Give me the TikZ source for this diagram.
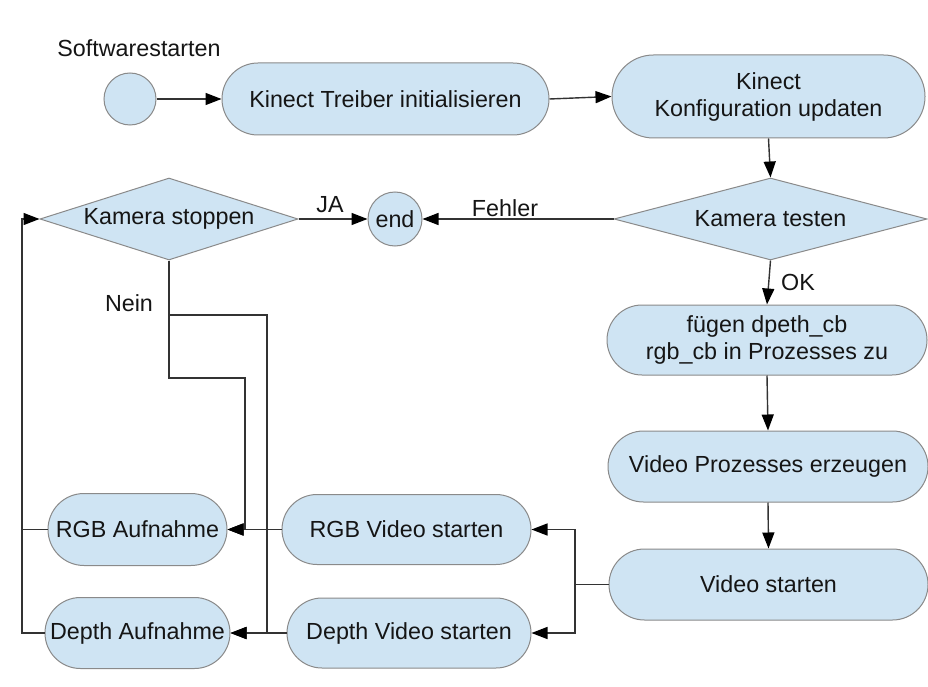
\documentclass[tikz,border=0pt]{standalone}
\usepackage{fontspec}
\setmainfont{Liberation Sans}
\usetikzlibrary{shapes.geometric,arrows.meta}
\definecolor{nodeblue}{HTML}{CFE4F3}
\definecolor{bordergray}{HTML}{8A8A8A}
\definecolor{linegray}{HTML}{333333}
\definecolor{txt}{HTML}{151515}
\tikzset{
  proc/.style={draw=bordergray, fill=nodeblue, line width=1pt, inner sep=0pt, align=center, text=txt},
  stadium/.style={proc, rectangle},
  decision/.style={proc, diamond},
  roundnode/.style={proc, circle},
  conn/.style={draw=linegray, line width=1.4pt, -{Triangle[length=16pt,width=12pt,color=black]}},
  plainline/.style={draw=linegray, line width=1.4pt},
  lbl/.style={text=txt, inner sep=0pt}
}
\begin{document}
\begin{tikzpicture}[x=1pt, y=-1pt, font=\fontsize{23.3}{27}\selectfont]
\useasboundingbox (0,0) rectangle (928,687);
\fill[white] (0,0) rectangle (928,687);

% nodes
\node[roundnode, minimum size=52pt] (start) at (130,99) {};
\node[lbl] (lblstart) at (139,48) {Softwarestarten};
\node[stadium, minimum width=327pt, minimum height=72pt, rounded corners=36pt] (treiber) at (385.5,99) {Kinect Treiber initialisieren};
\node[stadium, minimum width=313pt, minimum height=83pt, rounded corners=41.5pt] (konfig) at (768.5,96.5) {Kinect\\Konfiguration updaten};
\node[decision, aspect=3.82, minimum width=313pt, minimum height=82pt] (testen) at (770.5,219) {Kamera testen};
\node[roundnode, minimum size=54pt] (endc) at (395,219) {end};
\node[decision, aspect=3.15, minimum width=258pt, minimum height=82pt] (stoppen) at (169,219) {Kamera stoppen};
\node[stadium, minimum width=320pt, minimum height=70pt, rounded corners=35pt] (fuegen) at (767,340) {fügen dpeth\_cb\\rgb\_cb in Prozesses zu};
\node[stadium, minimum width=320pt, minimum height=71pt, rounded corners=35.5pt] (vp) at (768,466.5) {Video Prozesses erzeugen};
\node[stadium, minimum width=319pt, minimum height=71pt, rounded corners=35.5pt] (vs) at (768.5,584.5) {Video starten};
\node[stadium, minimum width=249pt, minimum height=70pt, rounded corners=35pt] (rgbvs) at (406.5,529.5) {RGB Video starten};
\node[stadium, minimum width=244pt, minimum height=70pt, rounded corners=35pt] (depvs) at (409,633) {Depth Video starten};
\node[stadium, minimum width=179pt, minimum height=72pt, rounded corners=36pt] (rgba) at (137.5,529.5) {RGB Aufnahme};
\node[stadium, minimum width=185pt, minimum height=71pt, rounded corners=35.5pt] (depa) at (137.5,633) {Depth Aufnahme};

% labels
\node[lbl] (lblja) at (330,205) {JA};
\node[lbl] (lblfehler) at (505,208) {Fehler};
\node[lbl] (lblok) at (798,282) {OK};
\node[lbl] (lblnein) at (129,303) {Nein};

% helper coordinates
\coordinate (loopx) at (22,0);
\coordinate (splitx) at (575,0);
\coordinate (neinA) at (245,378);
\coordinate (neinB) at (267,315);

% connectors
\draw[conn] (start.east) -- (treiber.west);
\draw[conn] (treiber.east) -- (konfig.west);
\draw[conn] (konfig.south) -- (testen.north);
\draw[conn] (testen.west) -- (endc.east);
\draw[conn] (stoppen.east) -- (endc.west);
\draw[conn] (testen.south) -- (fuegen.north);
\draw[conn] (fuegen.south) -- (vp.north);
\draw[conn] (vp.south) -- (vs.north);
\draw[conn] (vs.west) -- (vs.west -| splitx) |- (rgbvs.east);
\draw[conn] (vs.west) -- (vs.west -| splitx) |- (depvs.east);
\draw[conn] (rgbvs.west) -- (rgba.east);
\draw[conn] (depvs.west) -- (depa.east);
\draw[conn] (stoppen.south) -- (stoppen.south |- neinA) -- (neinA) -- (neinA |- rgba.east) -- (rgba.east);
\draw[conn] (stoppen.south) -- (stoppen.south |- neinB) -- (neinB) -- (neinB |- depa.east) -- (depa.east);
\draw[plainline] (rgba.west) -- (rgba.west -| loopx);
\draw[conn] (depa.west) -- (depa.west -| loopx) -- (loopx |- stoppen.west) -- (stoppen.west);
\end{tikzpicture}
\end{document}
